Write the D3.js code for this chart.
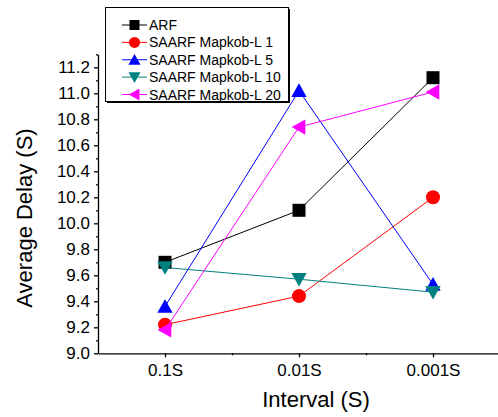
<!DOCTYPE html>
<html lang="en">
<head>
<meta charset="UTF-8">
<title>Average Delay vs Interval</title>
<script src="https://d3js.org/d3.v7.min.js"></script>
<style>
  body { margin: 0; background: #fff; }
  text { font-family: "Liberation Sans", Arial, sans-serif; }
</style>
</head>
<body>
<script>
// data
const categories = ["0.1S", "0.01S", "0.001S"];
const seriesNames = ["ARF", "SAARF Mapkob-L 1", "SAARF Mapkob-L 5", "SAARF Mapkob-L 10", "SAARF Mapkob-L 20"];
const arf = [9.70, 10.10, 11.12];
const saarf1 = [9.22, 9.44, 10.20];
const saarf5 = [9.36, 11.02, 9.53];
const saarf10 = [9.66, 9.57, 9.47];
const saarf20 = [9.18, 10.74, 11.01];
const yTicks = [9.0, 9.2, 9.4, 9.6, 9.8, 10.0, 10.2, 10.4, 10.6, 10.8, 11.0, 11.2];

const colors = ["#000000", "#ff0000", "#0000ff", "#008080", "#ff00ff"];
const shapes = ["square", "circle", "up", "down", "left"];
const values = [arf, saarf1, saarf5, saarf10, saarf20];

const width = 498, height = 417;
const svg = d3.select("body").append("svg")
    .attr("width", width)
    .attr("height", height);

const x = d3.scaleLinear().domain([-0.5, 2.5]).range([98, 500]);
const y = d3.scaleLinear().domain([9.0, 11.3]).range([353.3, 54.3]);

// marker path generator
function marker(shape, s) {
    const h = s / 2;
    if (shape === "square") return `M${-h},${-h}H${h}V${h}H${-h}Z`;
    if (shape === "circle") return d3.symbol(d3.symbolCircle, Math.PI * h * h)();
    if (shape === "up") return `M0,${-h * 1.05}L${h * 1.1},${h * 0.9}L${-h * 1.1},${h * 0.9}Z`;
    if (shape === "down") return `M0,${h * 1.05}L${h * 1.1},${-h * 0.9}L${-h * 1.1},${-h * 0.9}Z`;
    return `M${-h * 1.05},0L${h * 0.9},${-h * 1.1}L${h * 0.9},${h * 1.1}Z`;
}

// axes
const yAxis = svg.append("g")
    .attr("transform", `translate(${x.range()[0]},0)`)
    .call(d3.axisLeft(y).tickValues(yTicks).tickFormat(d3.format(".1f"))
        .tickSize(4).tickSizeOuter(0).tickPadding(4));
svg.append("g")
    .attr("transform", `translate(${x.range()[0]},0)`)
    .call(d3.axisLeft(y).tickValues(d3.range(9.1, 11.31, 0.2)).tickFormat("").tickSize(2))
    .call(g => g.select(".domain").remove());

const xAxis = svg.append("g")
    .attr("transform", `translate(0,${y.range()[0]})`)
    .call(d3.axisBottom(x).tickValues([0, 1, 2]).tickFormat(i => categories[i])
        .tickSize(4).tickSizeOuter(0).tickPadding(7));
svg.append("g")
    .attr("transform", `translate(0,${y.range()[0]})`)
    .call(d3.axisBottom(x).tickValues([0.5, 1.5]).tickFormat("").tickSize(2))
    .call(g => g.select(".domain").remove());

svg.selectAll(".domain, .tick line").attr("stroke", "#000").attr("stroke-width", 1.3);
yAxis.selectAll("text").attr("font-size", 17).attr("fill", "#000");
xAxis.selectAll("text").attr("font-size", 17).attr("fill", "#000");

// axis titles
svg.append("text")
    .attr("transform", "translate(32,218) rotate(-90)")
    .attr("text-anchor", "middle")
    .attr("font-size", 22)
    .text("Average Delay (S)");
svg.append("text")
    .attr("x", 316)
    .attr("y", 407)
    .attr("text-anchor", "middle")
    .attr("font-size", 22)
    .text("Interval (S)");

// series
const line = d3.line().x((d, i) => x(i)).y(d => y(d));
values.forEach((vals, k) => {
    const g = svg.append("g");
    g.append("path")
        .attr("d", line(vals))
        .attr("fill", "none")
        .attr("stroke", colors[k])
        .attr("stroke-width", 1);
    g.selectAll("path.m")
        .data(vals)
        .join("path")
        .attr("class", "m")
        .attr("transform", (d, i) => `translate(${x(i)},${y(d)})`)
        .attr("d", marker(shapes[k], shapes[k] === "square" ? 13 : 14))
        .attr("fill", colors[k]);
});

// legend
const lg = svg.append("g");
lg.append("rect").attr("x", 107).attr("y", 9).attr("width", 183).attr("height", 94).attr("fill", "#000");
lg.append("rect").attr("x", 105.5).attr("y", 7.5).attr("width", 183).attr("height", 94)
    .attr("fill", "#fff").attr("stroke", "#000").attr("stroke-width", 1);
const rowY = d3.scaleLinear().domain([0, 4]).range([25, 94.5]);
seriesNames.forEach((name, k) => {
    const ry = rowY(k);
    lg.append("line").attr("x1", 122).attr("x2", 147).attr("y1", ry).attr("y2", ry)
        .attr("stroke", colors[k]).attr("stroke-width", 1);
    lg.append("path").attr("transform", `translate(134.5,${ry})`)
        .attr("d", marker(shapes[k], shapes[k] === "square" ? 10 : 11))
        .attr("fill", colors[k]);
    lg.append("text").attr("x", 149).attr("y", ry + 5)
        .attr("font-size", 14).text(name);
});
</script>
</body>
</html>
